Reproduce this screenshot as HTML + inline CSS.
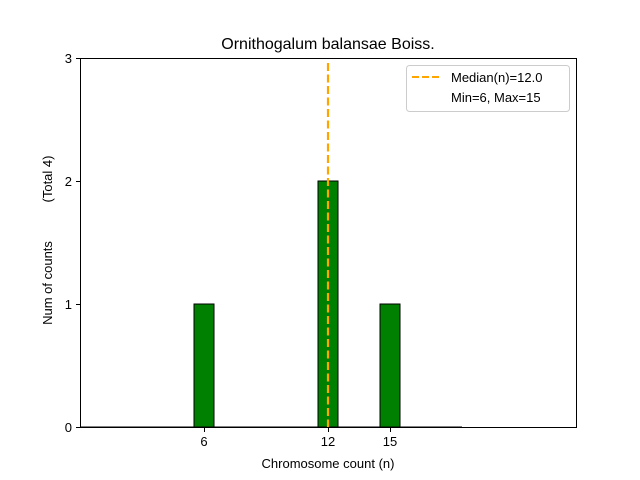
<!DOCTYPE html>
<html><head><meta charset="utf-8"><style>body{margin:0;background:#fff}svg{display:block}</style></head><body>
<svg width="640" height="480" xmlns="http://www.w3.org/2000/svg" font-family="Liberation Sans, DejaVu Sans, sans-serif">
<rect width="640" height="480" fill="#fff"/>
<text x="328" y="49" font-size="16" text-anchor="middle">Ornithogalum balansae Boiss.</text>
<g fill="#008000" stroke="#000" stroke-width="1">
<rect x="194" y="304" width="20" height="123"/>
<rect x="318" y="181" width="20" height="246"/>
<rect x="380" y="304" width="20" height="123"/>
</g>
<line x1="80" y1="427" x2="462" y2="427" stroke="#000" stroke-width="1"/>
<line x1="328" y1="63" x2="328" y2="427" stroke="#FFA500" stroke-width="2.2" stroke-dasharray="8,3.5"/>
<rect x="80.5" y="58.5" width="496" height="369" fill="none" stroke="#000" stroke-width="1"/>
<g stroke="#000" stroke-width="1">
<line x1="76" y1="427.5" x2="80" y2="427.5"/><line x1="76" y1="304.5" x2="80" y2="304.5"/>
<line x1="76" y1="181.5" x2="80" y2="181.5"/><line x1="76" y1="58.5" x2="80" y2="58.5"/>
<line x1="204.5" y1="428" x2="204.5" y2="432"/><line x1="328.5" y1="428" x2="328.5" y2="432"/><line x1="390.5" y1="428" x2="390.5" y2="432"/>
</g>
<g font-size="13" text-anchor="end">
<text x="72" y="432">0</text><text x="72" y="309">1</text><text x="72" y="186">2</text><text x="72" y="63">3</text>
</g>
<g font-size="13" text-anchor="middle">
<text x="204" y="446">6</text><text x="328" y="446">12</text><text x="390" y="446">15</text>
<text x="328" y="468">Chromosome count (n)</text>
</g>
<text transform="translate(52,283) rotate(-90)" font-size="13" text-anchor="middle">Num of counts</text>
<text transform="translate(52,179) rotate(-90)" font-size="13" text-anchor="middle">(Total 4)</text>
<rect x="406.5" y="65.5" width="163" height="46" rx="3" fill="#fff" fill-opacity="0.8" stroke="#ccc"/>
<line x1="412" y1="77" x2="440" y2="77" stroke="#FFA500" stroke-width="2" stroke-dasharray="7,3"/>
<text x="451" y="82" font-size="13">Median(n)=12.0</text>
<text x="451" y="102" font-size="13">Min=6, Max=15</text>
</svg>
</body></html>
